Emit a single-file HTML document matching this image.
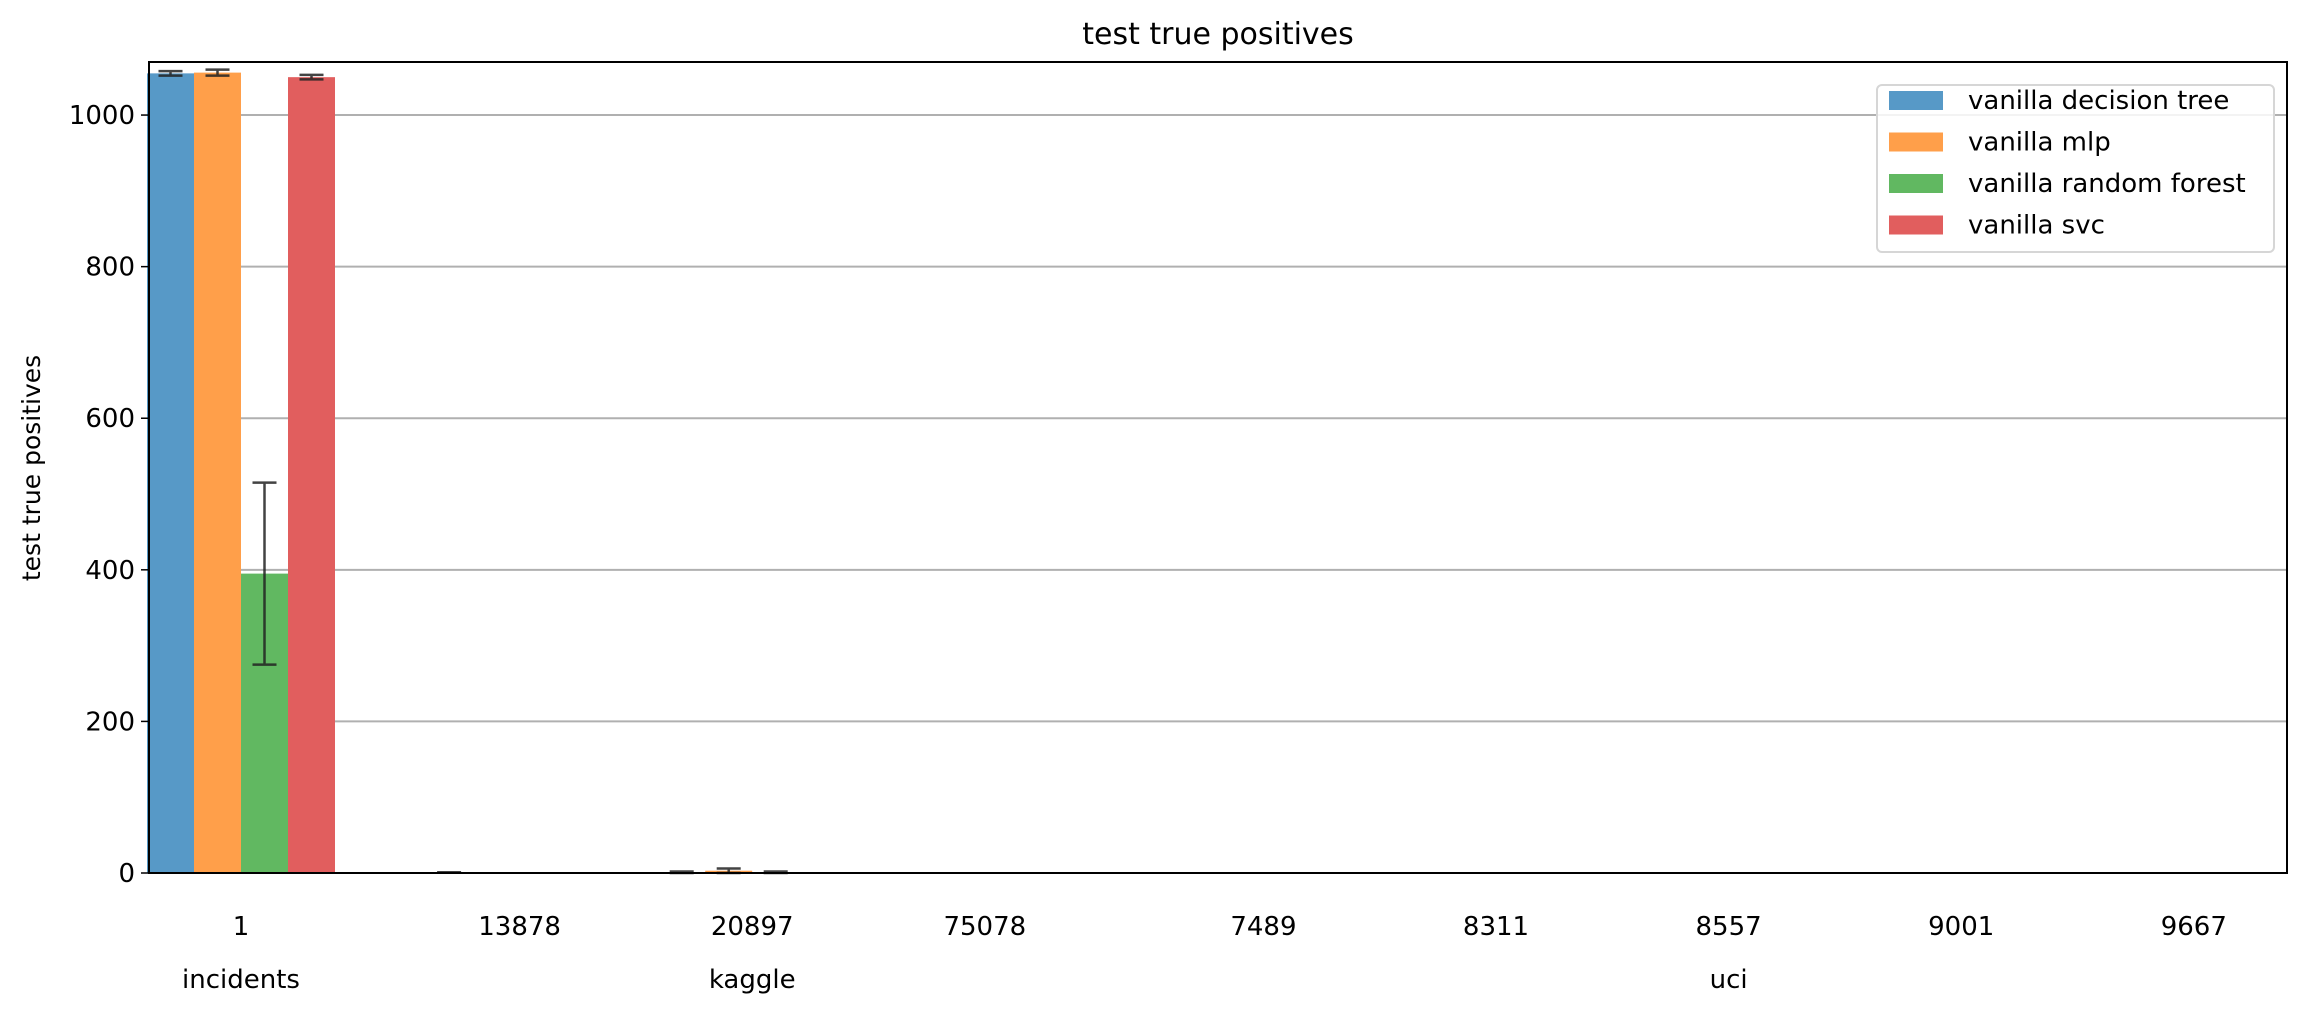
<!DOCTYPE html>
<html><head><meta charset="utf-8"><style>
html,body{margin:0;padding:0;background:#fff;}
svg{display:block;font-family:"DejaVu Sans","Liberation Sans",sans-serif;}
</style></head><body>
<svg id="chart" width="2308" height="1016" viewBox="0 0 2308 1016" xmlns="http://www.w3.org/2000/svg">
<text x="1218" y="44" font-size="30" text-anchor="middle">test true positives</text>
<g id="grid"></g>
<g id="bars"></g>
<g id="errs"></g>
<rect x="149" y="62" width="2138" height="811" fill="none" stroke="#000" stroke-width="2"/>
<g id="yticks"></g>
<g id="xticks"></g>
<text transform="translate(40,468) rotate(-90)" font-size="25" text-anchor="middle">test true positives</text>
<g id="legend"></g>
</svg>
<script>
const categories = ["1","13878","20897","75078","7489","8311","8557","9001","9667"];
const groupOf = [0,1,1,1,2,2,2,2,2];
const groupNames = ["incidents","kaggle","uci"];
const seriesNames = ["vanilla decision tree","vanilla mlp","vanilla random forest","vanilla svc"];
const dtVals = [1055,1,1,0,0,0,0,0,0];
const mlpVals = [1056,0,3,0,0,0,0,0,0];
const rfVals = [395,0,1,0,0,0,0,0,0];
const svcVals = [1050,0,0,0,0,0,0,0,0];
const dtErr = [3,0,1,0,0,0,0,0,0];
const mlpErr = [4,0,3,0,0,0,0,0,0];
const rfErr = [120,0,1,0,0,0,0,0,0];
const svcErr = [3,0,0,0,0,0,0,0,0];
const yTicks = [0,200,400,600,800,1000];
const colors = ["#5799c7","#ff9f4a","#61b861","#e15e5e"];

const NS="http://www.w3.org/2000/svg";
function mk(tag,attrs,parent,text){const e=document.createElementNS(NS,tag);for(const k in attrs)e.setAttribute(k,attrs[k]);if(text!==undefined)e.textContent=text;parent.appendChild(e);return e;}
const Y0=873, YMAX=1070, PT=62;
function y(v){return Y0-(v/YMAX)*(Y0-PT);}
const UNIT=232.6, GAP=46, X0=241, BW=47;
function xc(i){return X0+i*UNIT+groupOf[i]*GAP;}

const grid=document.getElementById('grid'), yt=document.getElementById('yticks');
yTicks.forEach(t=>{
  const g=mk('line',{x1:149,x2:2287,y1:y(t),y2:y(t),stroke:'#b0b0b0','stroke-width':2},grid);
  
  
  mk('line',{x1:141,x2:149,y1:y(t),y2:y(t),stroke:'#000','stroke-width':1.5},yt);
  const l=mk('text',{x:135,y:y(t)+9,'font-size':26,'text-anchor':'end'},yt,String(t));
  
  
});

const series=[dtVals,mlpVals,rfVals,svcVals], errs=[dtErr,mlpErr,rfErr,svcErr];
const bars=document.getElementById('bars'), eg=document.getElementById('errs');
categories.forEach((c,i)=>{
  series.forEach((s,k)=>{
    const x=xc(i)-2*BW+k*BW;
    const b=mk('rect',{x:x,y:y(s[i]),width:BW,height:Math.max(0,Y0-y(s[i])),fill:colors[k]},bars);
    
    
    const e=errs[k][i];
    if(s[i]>0||e>0){
      const cx=x+BW/2, t=y(s[i]+e), bt=y(Math.max(0,s[i]-e));
      const er=mk('path',{d:`M${cx},${t}V${bt}M${cx-12},${t}H${cx+12}M${cx-12},${bt}H${cx+12}`,stroke:'#222','stroke-width':2.5,fill:'none','stroke-opacity':0.85},eg);
      
      
    }
  });
});

const xt=document.getElementById('xticks');
categories.forEach((c,i)=>{
  const l=mk('text',{x:xc(i),y:935,'font-size':26,'text-anchor':'middle'},xt,c);
  
  
});
groupNames.forEach((g,gi)=>{
  const idx=categories.map((c,i)=>i).filter(i=>groupOf[i]===gi);
  const cx=(xc(idx[0])+xc(idx[idx.length-1]))/2;
  const l=mk('text',{x:cx,y:988,'font-size':26,'text-anchor':'middle'},xt,g);
  
  
});

const lg=document.getElementById('legend');
mk('rect',{x:1877,y:85,width:397,height:167,rx:5,fill:'#fff','fill-opacity':0.85,stroke:'#d6d6d6','stroke-width':2},lg);
seriesNames.forEach((n,k)=>{
  const yy=100+k*41.5;
  const p=mk('rect',{x:1889,y:yy-9,width:54,height:19,fill:colors[k]},lg);
  
  
  const t=mk('text',{x:1968,y:yy+9,'font-size':26},lg,n);
  
  
});
</script>
</body></html>
